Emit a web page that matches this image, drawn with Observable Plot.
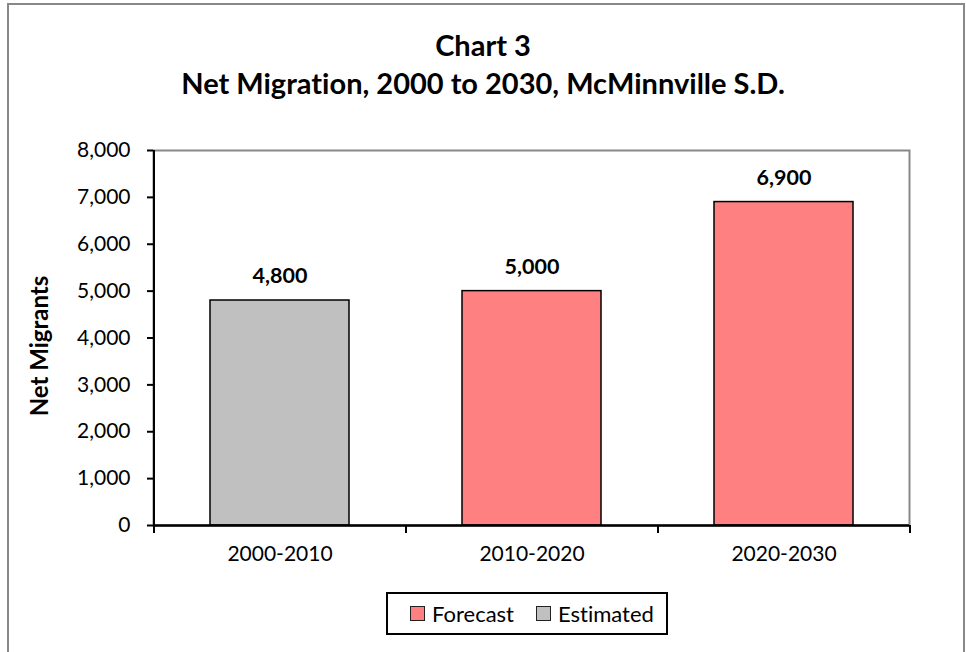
<!DOCTYPE html>
<html><head><meta charset="utf-8">
<script src="https://cdn.jsdelivr.net/npm/d3@7"></script>
<script src="https://cdn.jsdelivr.net/npm/@observablehq/plot@0.6"></script>
<style>
body{margin:0;background:#fff;font-family:Lato,"Open Sans",sans-serif;font-variant-ligatures:none;}
#wrap{position:relative;width:966px;height:652px;overflow:hidden;background:#fff}
#frame{position:absolute;left:7px;top:3px;width:958px;height:700px;border:2px solid #888;box-sizing:border-box}
.t{position:absolute;left:0;width:966px;text-align:center;font-weight:bold;font-size:29px;line-height:34px;color:#000;white-space:nowrap}
#ylab{position:absolute;left:38px;top:346px;transform:translate(-50%,-50%) rotate(-90deg);font-weight:bold;font-size:24px;white-space:nowrap}
#chart{position:absolute;left:0;top:0}
#legend{position:absolute;left:386px;top:592px;width:282px;height:43px;border:2px solid #000;box-sizing:border-box;background:#fff;font-size:22px}
.item{position:absolute;top:6px;display:flex;align-items:center;white-space:nowrap;line-height:27px}
.sw{width:13px;height:13px;border:1.5px solid #222;margin-right:7px;box-sizing:content-box}
svg text{font-variant-ligatures:none}
</style></head>
<body>
<div id="wrap">
  <div id="frame"></div>
  <div class="t" style="top:28px">Chart 3</div>
  <div class="t" style="top:66px">Net Migration, 2000 to 2030, McMinnville S.D.</div>
  <div id="chart"></div>
  <div id="ylab">Net Migrants</div>
  <div id="legend"></div>
</div>
<script>
const categories = ["2000-2010", "2010-2020", "2020-2030"];
const values = [4800, 5000, 6900];
const types = ["Estimated", "Forecast", "Forecast"];
const legendOrder = ["Forecast", "Estimated"];
const legendColors = ["#ff8080", "#c0c0c0"];
const yTicks = [0, 1000, 2000, 3000, 4000, 5000, 6000, 7000, 8000];

const data = categories.map((c, i) => ({cat: c, value: values[i], type: types[i]}));
const W = 966, H = 652, ML = 153, MR = 57, MT = 150, MB = 127;
const step = (W - ML - MR) / categories.length;
const fmt = d3.format(",");

const plot = Plot.plot({
  width: W, height: H,
  marginLeft: ML, marginRight: MR, marginTop: MT, marginBottom: MB,
  style: {fontFamily: "Lato, 'Open Sans', sans-serif", fontSize: "21px", color: "#000", background: "transparent"},
  x: {domain: categories, paddingInner: 0.45, paddingOuter: 0.225, axis: null},
  y: {domain: [0, 8000], axis: null},
  color: {domain: legendOrder, range: legendColors},
  marks: [
    Plot.frame({stroke: "#888", strokeWidth: 2}),
    Plot.barY(data, {x: "cat", y: "value", fill: "type", stroke: "#000", strokeWidth: 1.5}),
    Plot.text(data, {x: "cat", y: "value", text: d => fmt(d.value), dy: -24, fontWeight: "bold", fontSize: 21.5}),
    Plot.ruleX([categories[0]], {dx: -step / 2, stroke: "#000", strokeWidth: 2}),
    Plot.axisY(yTicks, {tickSize: 6, tickPadding: 17, tickFormat: fmt, fontSize: 21, label: null, strokeWidth: 2}),
    Plot.axisX(categories, {text: null, tickSize: 8, dx: -step / 2, strokeWidth: 2, label: null}),
    Plot.axisX([categories[categories.length - 1]], {text: null, tickSize: 8, dx: step / 2, strokeWidth: 2, label: null}),
    Plot.axisX(categories, {tickSize: 0, tickPadding: 21, fontSize: 21, label: null}),
    Plot.ruleY([0], {stroke: "#000", strokeWidth: 2.5})
  ]
});
document.getElementById("chart").appendChild(plot);

const lg = document.getElementById("legend");
const lefts = [22, 148];
legendOrder.forEach((k, i) => {
  const it = document.createElement("div");
  it.className = "item";
  it.style.left = lefts[i] + "px";
  it.innerHTML = `<span class="sw" style="background:${legendColors[i]}"></span><span>${k}</span>`;
  lg.appendChild(it);
});
</script>
</body></html>
